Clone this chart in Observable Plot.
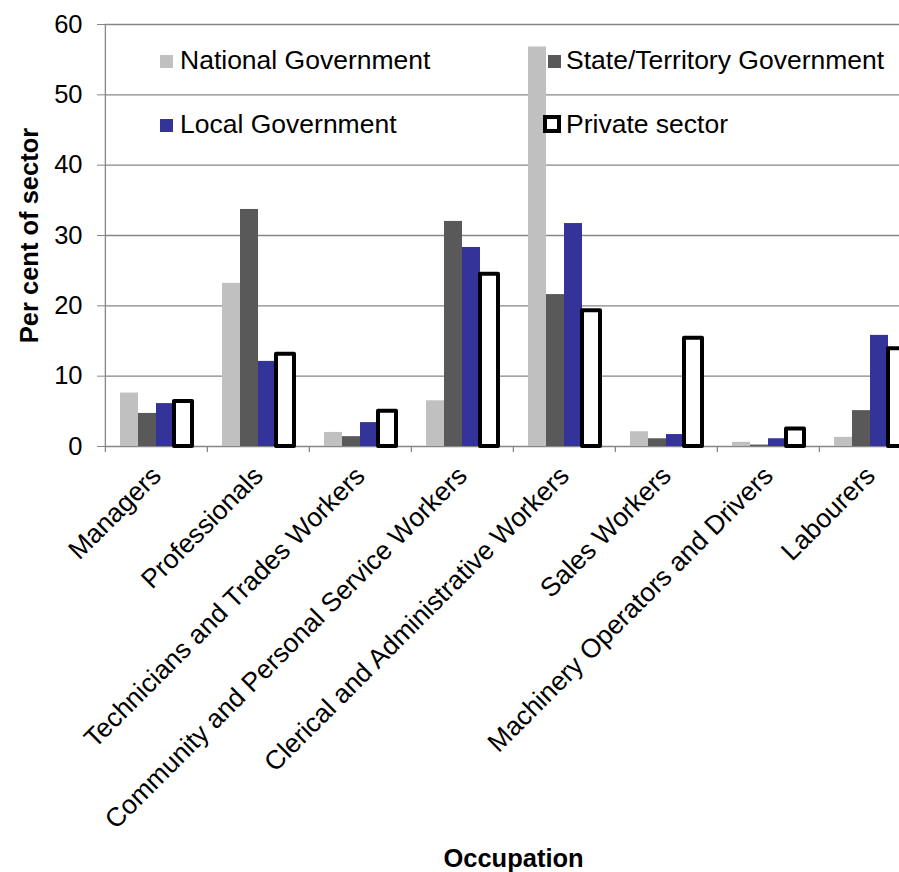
<!DOCTYPE html>
<html>
<head>
<meta charset="utf-8">
<script src="https://cdn.jsdelivr.net/npm/d3@7"></script>
<script src="https://cdn.jsdelivr.net/npm/@observablehq/plot@0.6"></script>
<style>
  body { margin: 0; background: white; }
  #wrap { position: relative; width: 899px; height: 872px; overflow: hidden; font-family: 'Liberation Sans', Arial, sans-serif; }
  .lg-text { position: absolute; font-size: 26.5px; line-height: 26px; color: #000; white-space: nowrap; }
  .lg-sw { position: absolute; box-sizing: border-box; }
</style>
</head>
<body>
<div id="wrap"></div>
<script>
// ---- Data ----
const categories = [
  "Managers",
  "Professionals",
  "Technicians and Trades Workers",
  "Community and Personal Service Workers",
  "Clerical and Administrative Workers",
  "Sales Workers",
  "Machinery Operators and Drivers",
  "Labourers"
];
const sectors = ["National Government", "State/Territory Government", "Local Government", "Private sector"];
const nationalGov = [7.6, 23.2, 2.0, 6.5, 56.8, 2.1, 0.6, 1.3];
const stateGov    = [4.7, 33.7, 1.4, 32.0, 21.6, 1.1, 0.2, 5.1];
const localGov    = [6.1, 12.1, 3.4, 28.3, 31.7, 1.7, 1.1, 15.8];
const privateSec  = [6.4, 13.1, 5.0, 24.5, 19.3, 15.4, 2.5, 13.9];
const yTicks = [0, 10, 20, 30, 40, 50, 60];

// ---- Styles / layout ----
const fills = ["#c0c0c0", "#595959", "#333399", "#ffffff"];
const gridColor = "#868686";
const W = 899, H = 872;
const M = {left: 104, right: -23, top: 24, bottom: 426};
const step = (W - M.left - M.right) / categories.length;

const series = [nationalGov, stateGov, localGov, privateSec];
const rows = categories.flatMap((c, i) =>
  sectors.map((s, j) => ({occupation: c, sector: s, value: series[j][i]}))
);

const chart = Plot.plot({
  width: W, height: H,
  marginLeft: M.left, marginRight: M.right, marginTop: M.top, marginBottom: M.bottom,
  style: {fontFamily: "'Liberation Sans', Arial, sans-serif", fontSize: "25px", background: "white", overflow: "hidden", color: "black"},
  fx: {domain: categories, padding: 0},
  x: {domain: sectors, paddingInner: 0, paddingOuter: 0.7, axis: null},
  y: {domain: [0, 60]},
  color: {domain: sectors, range: fills},
  marks: [
    Plot.ruleY(yTicks, {stroke: gridColor, strokeWidth: 1.3}),
    Plot.ruleX([categories[0]], {fx: d => d, x: null, dx: -step / 2, stroke: gridColor, strokeWidth: 1.3}),
    Plot.ruleX(categories, {fx: d => d, x: null, y1: 0, y2: 0, insetBottom: -6, dx: -step / 2, stroke: gridColor, strokeWidth: 1.3}),
    Plot.barY(rows.filter(d => d.sector !== sectors[3]), {fx: "occupation", x: "sector", y: "value", fill: "sector"}),
    Plot.barY(rows.filter(d => d.sector === sectors[3]), {fx: "occupation", x: "sector", y: "value", fill: "white", stroke: "black", strokeWidth: 4, strokeLinejoin: "round"}),
    Plot.axisY({ticks: yTicks, tickSize: 8, tickPadding: 15, stroke: gridColor, fill: "black", fontSize: 25.5,
      label: "Per cent of sector", labelAnchor: "center", labelOffset: 86, labelArrow: false}),
    Plot.axisFx({anchor: "bottom", tickSize: 0, tickPadding: 25, tickRotate: -45, fontSize: 26.5, fill: "black",
      label: "Occupation", labelAnchor: "center", labelOffset: 420, labelArrow: false})
  ]
});

d3.select(chart).selectAll('[aria-label="y-axis label"] text, [aria-label="fx-axis label"] text')
  .attr("font-weight", "bold").attr("font-size", 25.5);

const wrap = document.getElementById("wrap");
wrap.appendChild(chart);

// ---- Legend (inside plot area, as in the original) ----
const legendLayout = [
  {sw: [160, 55, 13, 13], text: [180, 47]},
  {sw: [548, 55, 13, 13], text: [566, 47]},
  {sw: [160, 119, 13, 13], text: [180, 111]},
  {sw: [543, 115, 18, 18], text: [566, 111]}
];
sectors.forEach((s, i) => {
  const L = legendLayout[i];
  const sw = document.createElement("div");
  sw.className = "lg-sw";
  Object.assign(sw.style, {left: L.sw[0] + "px", top: L.sw[1] + "px", width: L.sw[2] + "px", height: L.sw[3] + "px", background: fills[i]});
  if (i === 3) sw.style.border = "4px solid black";
  wrap.appendChild(sw);
  const t = document.createElement("div");
  t.className = "lg-text";
  t.textContent = s;
  Object.assign(t.style, {left: L.text[0] + "px", top: L.text[1] + "px"});
  wrap.appendChild(t);
});
</script>
</body>
</html>
